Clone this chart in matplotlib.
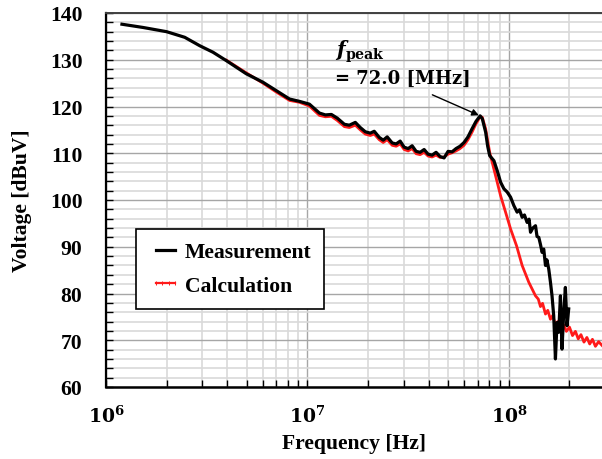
#Imports matplotlib and numpy to plot the figure
import matplotlib.pyplot as plt
import numpy as np
from matplotlib.ticker import LogLocator, MultipleLocator, NullFormatter, FixedLocator
from matplotlib.lines import Line2D

#Fonts: Times-like bold text, Cambria-like math for the tick labels and annotation
plt.rcParams['font.family'] = ['Liberation Serif', 'DejaVu Serif']
plt.rcParams['font.weight'] = 'bold'
plt.rcParams['mathtext.fontset'] = 'custom'
plt.rcParams['mathtext.rm'] = 'DejaVu Serif'
plt.rcParams['mathtext.bf'] = 'DejaVu Serif:bold'
plt.rcParams['mathtext.it'] = 'DejaVu Serif:italic'
plt.rcParams['mathtext.bfit'] = 'DejaVu Serif:italic:bold'

#Measured spectrum (frequency in MHz, voltage in dBuV)
meas_f = [1.2, 1.53, 2.0, 2.46, 2.92, 3.40, 3.96, 4.97, 6.01, 7.0,
          8.15, 9.13, 10.23, 11.47, 12.28, 13.15, 14.08, 15.25, 16.14, 17.29,
          18.30, 19.37, 20.51, 21.46, 22.72, 23.78, 24.89, 26.35, 27.58, 28.87,
          30.22, 31.62, 33.10, 34.65, 36.27, 37.96, 39.72, 41.58, 43.52, 45.55,
          47.68, 49.90, 52.23, 54.67, 57.22, 59.89, 62.66, 65.59, 68.66, 72.0,
          73.8, 76.7, 78.5, 80.3, 84.3, 87.5, 91.0, 94.5, 98.1, 102.0,
          105.9, 109.9, 113.0, 116.4, 119.5, 123.2, 126.0, 128.1, 131.5, 135.6,
          138.0, 140.8, 143.5, 146.2, 149.0, 152.0, 154.5, 157.8, 160.9, 163.8,
          167.0, 170.3, 173.4, 176.8, 180.3, 183.6, 187.2, 190.8, 194.4, 198.2]
meas_v = [137.6, 136.9, 136.0, 134.8, 133.0, 131.6, 129.8, 127.0, 125.2, 123.4,
          121.6, 121.1, 120.5, 118.6, 118.2, 118.3, 117.5, 116.2, 116.0, 116.6,
          115.5, 114.6, 114.3, 114.7, 113.4, 112.8, 113.5, 112.2, 112.0, 112.6,
          111.3, 111.0, 111.6, 110.4, 110.2, 110.8, 109.8, 109.6, 110.2, 109.3,
          109.0, 110.4, 110.3, 111.0, 111.5, 112.3, 113.5, 115.2, 116.8, 118.0,
          117.4, 114.5, 111.5, 109.5, 108.4, 106.3, 103.8, 102.4, 101.7, 100.6,
          98.8, 97.4, 97.9, 96.3, 96.8, 95.2, 95.9, 93.1, 94.0, 94.5,
          92.2, 92.0, 90.5, 88.8, 89.5, 86.0, 87.2, 85.2, 82.4, 79.5,
          75.2, 66.0, 73.8, 71.7, 79.5, 68.1, 75.9, 81.3, 73.1, 76.7]

#Calculated spectrum (frequency in MHz, voltage in dBuV)
calc_f = [3.96, 4.97, 6.01, 7.0, 8.15, 9.13, 10.23, 11.47, 12.28, 13.15,
          14.08, 15.25, 16.14, 17.29, 18.30, 19.37, 20.51, 21.46, 22.72, 23.78,
          24.89, 26.35, 27.58, 28.87, 30.22, 31.62, 33.10, 34.65, 36.27, 37.96,
          39.72, 41.58, 43.52, 45.55, 47.68, 49.90, 52.23, 54.67, 57.22, 59.89,
          62.66, 65.59, 68.66, 72.0, 73.8, 76.7, 80.3, 85.9, 91.0, 96.3,
          102.0, 109.2, 116.4, 125.6, 135.6, 140.0, 143.5, 147.0, 152.0, 156.0,
          160.9, 165.0, 170.0, 175.0, 181.0, 187.0, 193.0, 200.0, 207.0, 214.0,
          221.0, 228.0, 236.0, 244.0, 252.0, 260.0, 269.0, 279.0, 290.0]
calc_v = [129.9, 127.2, 125.0, 123.1, 121.3, 120.9, 120.1, 118.1, 117.8, 117.9,
          117.0, 115.7, 115.5, 116.0, 115.0, 114.1, 113.8, 114.1, 112.9, 112.3,
          112.9, 111.7, 111.5, 112.0, 110.8, 110.5, 111.0, 109.9, 109.7, 110.2,
          109.4, 109.2, 109.6, 109.1, 109.2, 109.8, 110.1, 110.5, 111.0, 111.7,
          112.9, 114.5, 116.3, 117.8, 117.7, 115.2, 110.2, 105.2, 100.9, 97.4,
          93.8, 90.2, 86.0, 82.4, 79.5, 78.8, 77.2, 77.9, 75.6, 76.4,
          74.5, 75.3, 73.4, 74.0, 72.6, 73.3, 71.9, 72.8, 71.0, 71.9,
          70.3, 71.2, 69.6, 70.6, 69.2, 70.2, 68.7, 69.7, 68.9]

#Axis ticks and the peak annotation
y_ticks = [60, 70, 80, 90, 100, 110, 120, 130, 140]
x_ticks = [1e6, 1e7, 1e8]
x_tick_labels = [r'$\mathbf{10^{6}}$', r'$\mathbf{10^{7}}$', r'$\mathbf{10^{8}}$']
peak_f = 72.0
peak_v = 118.0

fig = plt.figure(figsize=(6.02, 4.60), dpi=100)
ax = fig.add_axes([106/602, 72/460, 496/602, 374/460])

#Red calculation underneath, black measurement on top
ax.plot(np.array(calc_f)*1e6, calc_v, color='#ff1a1a', lw=2.0, zorder=3)
ax.plot(np.array(meas_f)*1e6, meas_v, color='black', lw=2.3, zorder=4)

ax.set_xscale('log')
ax.set_xlim(1e6, 2.9e8)
ax.set_ylim(60, 140)

ax.xaxis.set_major_locator(FixedLocator(x_ticks))
ax.set_xticklabels(x_tick_labels)
ax.xaxis.set_minor_locator(LogLocator(base=10, subs=np.arange(2, 10)))
ax.xaxis.set_minor_formatter(NullFormatter())
ax.set_yticks(y_ticks)
ax.yaxis.set_minor_locator(MultipleLocator(2))

ax.tick_params(axis='y', which='both', direction='in', length=5, width=1, labelsize=15.6, pad=17)
ax.tick_params(axis='x', which='both', direction='in', length=5, width=1, labelsize=13.5, pad=13)
ax.tick_params(top=False, right=False)

#Grid like the spreadsheet original
ax.grid(which='major', color='#a6a6a6', lw=1.0, zorder=0)
ax.grid(which='minor', color='#d9d9d9', lw=1.2, zorder=0)
ax.set_axisbelow(True)

ax.spines['left'].set_linewidth(1.6)
ax.spines['bottom'].set_linewidth(1.8)
ax.spines['top'].set_color('#404040')
ax.spines['top'].set_linewidth(1.4)
ax.spines['right'].set_visible(False)

ax.set_xlabel('Frequency [Hz]', fontsize=15.6, fontweight='bold', labelpad=5)
ax.set_ylabel('Voltage [dBuV]', fontsize=15.6, fontweight='bold')
ax.yaxis.set_label_coords(-0.149, 0.5)

#Peak annotation
ax.annotate('', xy=(peak_f*1e6, peak_v), xytext=(4.17e7, 122.5),
            arrowprops=dict(arrowstyle='-|>', color='black', lw=1.0, mutation_scale=10, shrinkA=0, shrinkB=1))
ax.text(1.376e7, 130.8, r'$\mathbfit{f}_{\mathbf{peak}}$', fontsize=14.5, va='baseline', ha='left')
ax.text(1.376e7, 125.0, '= %.1f [MHz]' % peak_f, fontsize=13, va='baseline', ha='left',
        family='DejaVu Serif', fontweight='bold')

#Legend
handles = [Line2D([], [], color='black', lw=2.3),
           Line2D([], [], color='#ff1a1a', lw=1.6, marker='|', ms=2.5, mew=0.7)]
leg = ax.legend(handles, ['Measurement', 'Calculation'], loc='upper left',
                bbox_to_anchor=(30/496, 158/374), borderaxespad=0, fancybox=False,
                edgecolor='black', framealpha=1, prop={'size': 15.6, 'weight': 'bold'},
                handlelength=1.5, handletextpad=0.15, labelspacing=0.62, numpoints=4,
                borderpad=0.6)
leg.get_frame().set_linewidth(1.2)

fig.savefig('out.png', dpi=100)
